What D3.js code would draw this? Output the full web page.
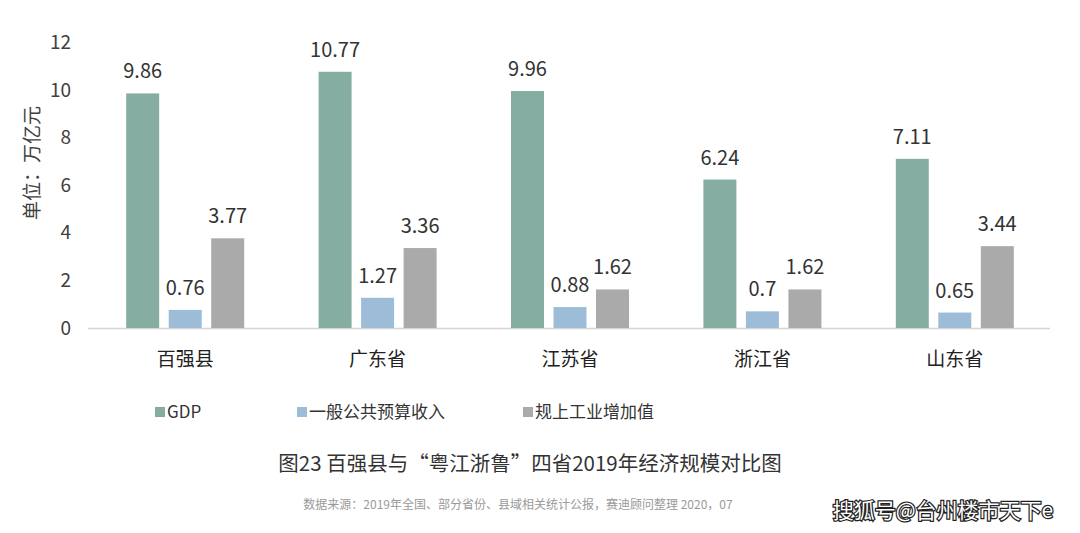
<!DOCTYPE html>
<html><head><meta charset="utf-8">
<script src="https://cdn.jsdelivr.net/npm/d3@7/dist/d3.min.js"></script>
<style>body{margin:0;background:#fff}svg{display:block}</style>
</head><body>
<svg id="c" width="1080" height="533"></svg>
<script>
const categories = ["百强县","广东省","江苏省","浙江省","山东省"];
const seriesNames = ["GDP","一般公共预算收入","规上工业增加值"];
const gdp = [9.86,10.77,9.96,6.24,7.11];
const budget = [0.76,1.27,0.88,0.7,0.65];
const industry = [3.77,3.36,1.62,1.62,3.44];
const yTicks = [0,2,4,6,8,10,12];
const colors = ["#86ada2","#9dbcd8","#aaaaaa"];
const series = [gdp,budget,industry];
const font = "'Microsoft YaHei','Noto Sans CJK SC','Noto Sans',sans-serif";

const svg = d3.select("#c");
const x = d3.scaleBand().domain(categories).range([89,1051]);
const y = d3.scaleLinear().domain([0,12]).range([328,42.5]);
const xs = d3.scaleBand().domain(d3.range(3)).range([-59,59]).paddingInner(0.224).paddingOuter(0);

// baseline
svg.append("line").attr("x1",88).attr("x2",1050).attr("y1",y(0)+0.5).attr("y2",y(0)+0.5)
  .attr("stroke","#d4d4d4").attr("stroke-width",1.5);

// y axis
const yAxis = d3.axisLeft(y).tickValues(yTicks).tickSize(0).tickPadding(0);
const gy = svg.append("g").attr("transform","translate(71,0)").call(yAxis);
gy.select(".domain").remove();
gy.selectAll("text").attr("font-family",font).attr("font-size",19).attr("fill","#404040");

svg.append("text").attr("transform","translate(34,163) rotate(-90)").attr("text-anchor","middle")
  .attr("dominant-baseline","middle").attr("font-family",font).attr("font-size",19).attr("fill","#404040")
  .text("单位：万亿元");

// bars
series.forEach((vals,si)=>{
  const g = svg.append("g");
  g.selectAll("rect").data(vals).join("rect")
    .attr("x",(d,i)=>x(categories[i])+x.bandwidth()/2+xs(si))
    .attr("width",xs.bandwidth())
    .attr("y",d=>y(d)).attr("height",d=>y(0)-y(d))
    .attr("fill",colors[si]);
  g.selectAll("text").data(vals).join("text")
    .attr("x",(d,i)=>x(categories[i])+x.bandwidth()/2+xs(si)+xs.bandwidth()/2)
    .attr("y",d=>y(d)-15).attr("text-anchor","middle")
    .attr("font-family",font).attr("font-size",20).attr("fill","#333")
    .text(d=>d);
});

// x axis labels
const xAxis = d3.axisBottom(x).tickSize(0).tickPadding(0);
const gx = svg.append("g").attr("transform","translate(0,352)").call(xAxis);
gx.select(".domain").remove();
gx.selectAll("text").attr("font-family",font).attr("font-size",19).attr("fill","#222");

// legend
const legX = [155,297,523];
seriesNames.forEach((n,i)=>{
  svg.append("rect").attr("x",legX[i]).attr("y",407).attr("width",10).attr("height",10).attr("fill",colors[i]);
  svg.append("text").attr("x",legX[i]+12).attr("y",413).attr("dominant-baseline","middle")
    .attr("font-family",font).attr("font-size",17).attr("fill","#333").text(n);
});

// title
svg.append("text").attr("x",530).attr("y",465).attr("text-anchor","middle").attr("dominant-baseline","middle")
  .attr("font-family",font).attr("font-size",20.5).attr("fill","#333")
  .text("图23 百强县与“粤江浙鲁”四省2019年经济规模对比图");
svg.append("text").attr("x",518).attr("y",506).attr("text-anchor","middle").attr("dominant-baseline","middle")
  .attr("font-family",font).attr("font-size",12).attr("fill","#9a9a9a")
  .text("数据来源：2019年全国、部分省份、县域相关统计公报，赛迪顾问整理  2020，07");
svg.append("text").attr("x",943).attr("y",512).attr("text-anchor","middle").attr("dominant-baseline","middle")
  .attr("font-family",font).attr("font-size",21).attr("fill","#fff")
  .attr("stroke","#222").attr("stroke-width",2.5).attr("paint-order","stroke")
  .text("搜狐号@台州楼市天下e");
</script>
</body></html>
